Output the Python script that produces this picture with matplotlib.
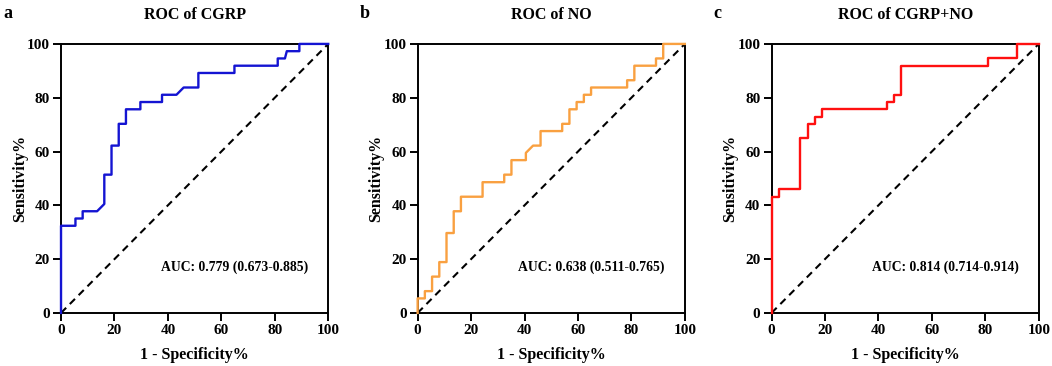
import matplotlib.pyplot as plt

plt.rcParams["font.family"] = ["Liberation Serif", "DejaVu Serif"]
plt.rcParams["font.weight"] = "bold"

# ROC step curves (1 - specificity %, sensitivity %)
cgrp_fpr = [0, 0, 5.4, 5.4, 8.1, 8.1, 13.5, 16.2, 16.2, 18.9, 18.9, 21.6, 21.6, 24.3, 24.3,
            29.7, 29.7, 37.8, 37.8, 43.2, 45.9, 51.4, 51.4, 64.9, 64.9, 81.1, 81.1, 83.8,
            84.5, 89.2, 89.2, 100]
cgrp_tpr = [0, 32.4, 32.4, 35.1, 35.1, 37.8, 37.8, 40.5, 51.4, 51.4, 62.2, 62.2, 70.3, 70.3,
            75.7, 75.7, 78.4, 78.4, 81.1, 81.1, 83.8, 83.8, 89.2, 89.2, 91.9, 91.9, 94.6,
            94.6, 97.3, 97.3, 100, 100]

no_fpr = [0, 0, 2.7, 2.7, 5.4, 5.4, 8.1, 8.1, 10.8, 10.8, 13.5, 13.5, 16.2, 16.2, 24.3, 24.3,
          32.4, 32.4, 35.1, 35.1, 40.5, 40.5, 43.2, 46.0, 46.0, 54.1, 54.1, 56.8, 56.8,
          59.5, 59.5, 62.2, 62.2, 64.9, 64.9, 78.4, 78.4, 81.1, 81.1, 89.2, 89.2, 91.9,
          91.9, 100]
no_tpr = [0, 5.4, 5.4, 8.1, 8.1, 13.5, 13.5, 18.9, 18.9, 29.7, 29.7, 37.8, 37.8, 43.2, 43.2,
          48.6, 48.6, 51.4, 51.4, 56.8, 56.8, 59.5, 62.2, 62.2, 67.6, 67.6, 70.3, 70.3,
          75.7, 75.7, 78.4, 78.4, 81.1, 81.1, 83.8, 83.8, 86.5, 86.5, 91.9, 91.9, 94.6,
          94.6, 100, 100]

combo_fpr = [0, 0, 2.7, 2.7, 10.8, 10.8, 13.5, 13.5, 16.2, 16.2, 18.9, 18.9, 43.2, 43.2,
             46.0, 46.0, 48.6, 48.6, 81.1, 81.1, 91.9, 91.9, 100]
combo_tpr = [0, 43.2, 43.2, 45.9, 45.9, 64.9, 64.9, 70.3, 70.3, 73.0, 73.0, 75.7, 75.7, 78.4,
             78.4, 81.1, 81.1, 91.9, 91.9, 94.6, 94.6, 100, 100]

titles = ["ROC of CGRP", "ROC of NO", "ROC of CGRP+NO"]
letters = ["a", "b", "c"]
auc_texts = ["AUC: 0.779 (0.673-0.885)", "AUC: 0.638 (0.511-0.765)", "AUC: 0.814 (0.714-0.914)"]
colors = ["#1414d2", "#f9a040", "#ff1010"]
curves = [(cgrp_fpr, cgrp_tpr), (no_fpr, no_tpr), (combo_fpr, combo_tpr)]

fig = plt.figure(figsize=(10.52, 3.66), dpi=100)
lefts = [0.058, 0.397, 0.7334]

for i in range(3):
    ax = fig.add_axes([lefts[i], 0.145, 0.254, 0.735])
    fpr, tpr = curves[i]
    ax.plot([0, 100], [0, 100], color="black", lw=1.5, ls=(0, (3.5, 2.5)), zorder=2)
    ax.plot(fpr, tpr, color=colors[i], lw=1.7, zorder=3, clip_on=False)
    ax.set_xlim(0, 100)
    ax.set_ylim(0, 100)
    ax.set_xticks(range(0, 101, 20))
    ax.set_yticks(range(0, 101, 20))
    for s in ax.spines.values():
        s.set_linewidth(1.4)
    ax.tick_params(direction="out", length=6, width=1.4, labelsize=11, pad=2)
    for lab in ax.get_xticklabels() + ax.get_yticklabels():
        lab.set_fontweight("bold")
    ax.set_xlabel("1 - Specificity%", fontsize=11.5, fontweight="bold", labelpad=7)
    ax.set_ylabel("Sensitivity%", fontsize=11.5, fontweight="bold")
    ax.yaxis.set_label_coords(-0.124, 0.5)
    ax.set_title(titles[i], fontsize=11.5, fontweight="bold", pad=18)
    ax.text(92.5, 17, auc_texts[i], ha="right", va="center", fontsize=9.8, fontweight="bold")
    fig.text(lefts[i] - 0.055, 0.962, letters[i], fontsize=13, fontweight="bold",
             ha="left", va="center")

fig.savefig("out.png", dpi=100)
